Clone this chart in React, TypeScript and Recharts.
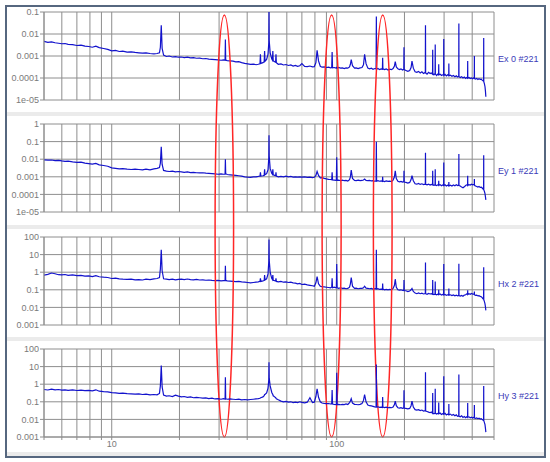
import React from 'react';
import { LineChart, Line, XAxis, YAxis, CartesianGrid, ReferenceArea } from 'recharts';

// Frequency (Hz) of each sample, shared by all four channels
const freqs = [
  5, 5.2, 5.4, 5.6, 5.8, 6, 6.2, 6.4, 6.7, 7, 7.3, 7.6, 7.9, 8.2, 8.5, 8.8, 9.2, 9.6, 10, 10.4,
  10.8, 11.2, 11.7, 12.2, 12.7, 13.2, 13.7, 14.2, 14.8, 15.4, 15.9, 16.3, 16.45, 16.6, 16.75, 17, 17.5, 18, 18.6, 19.2,
  19.8, 20.4, 21, 21.7, 22.4, 23.1, 23.8, 24.6, 25.4, 26.2, 27, 27.9, 28.8, 29.7, 30.6, 31.4, 31.9, 32, 32.1, 32.6,
  33.6, 34.6, 35.6, 36.7, 37.8, 39, 40.2, 41.4, 42.6, 43.8, 44.8, 45.6, 45.8, 46, 47, 47.6, 47.8, 48, 48.8, 49.5,
  49.9, 50, 50.1, 50.6, 51.4, 51.8, 52, 52.2, 53, 53.5, 53.7, 53.9, 55, 56.5, 58, 59.5, 61, 62.5, 64, 65.5,
  67, 68.5, 70, 72, 74, 76, 78, 79.5, 80.8, 81.8, 83, 84.5, 86, 88, 90, 92, 93.8, 95, 95.4, 95.8,
  97.5, 99.2, 99.6, 100, 100.4, 102, 104, 106, 108, 110, 112, 114, 115, 116, 117.5, 120, 122, 124.5, 127, 129.5,
  131.5, 133, 135, 137.5, 140, 142.5, 145, 147.5, 149.6, 150, 150.4, 152.5, 155, 157.5, 159.6, 160, 160.4, 163, 166, 169,
  172, 175, 178, 180.5, 182, 184, 187, 190, 193, 196, 198.6, 199, 199.4, 203, 207, 211, 214, 216, 219, 223,
  227, 231, 235, 239, 243, 247.6, 248, 248.4, 252, 256, 260, 263, 266.6, 267, 267.4, 270.5, 273.6, 274, 274.4, 278,
  281, 283.6, 284, 284.4, 288, 292, 295.5, 298.6, 299, 299.4, 303, 307, 311, 314.6, 315, 315.4, 320, 325, 330, 335,
  340, 344, 348.6, 349, 349.4, 354, 359, 364, 369, 374, 378, 381.6, 382, 382.4, 387, 392, 397, 402, 406, 408.6,
  409, 409.4, 414, 419, 424, 429, 434, 439, 443, 446, 449.6, 450, 450.4, 453, 456, 458, 460,
];

const ex = [
  4.6e-3, 4.2e-3, 4.4e-3, 4.0e-3, 3.8e-3, 3.6e-3, 3.7e-3, 3.4e-3, 3.3e-3, 3.0e-3, 3.1e-3, 2.8e-3, 2.7e-3, 2.5e-3, 2.8e-3, 2.4e-3, 2.2e-3, 2.0e-3, 1.7e-3, 1.8e-3,
  1.6e-3, 1.65e-3, 1.5e-3, 1.55e-3, 1.45e-3, 1.4e-3, 1.35e-3, 1.4e-3, 1.3e-3, 1.25e-3, 1.3e-3, 1.4e-3, 2.5e-3, 2.5e-2, 2.2e-3, 1.1e-3, 9.5e-4, 1.0e-3, 9.0e-4, 9.4e-4,
  8.8e-4, 9.0e-4, 8.5e-4, 8.8e-4, 8.2e-4, 8.4e-4, 7.9e-4, 8.0e-4, 7.5e-4, 7.7e-4, 7.2e-4, 7.0e-4, 6.8e-4, 6.6e-4, 6.4e-4, 6.6e-4, 6.4e-4, 5.6e-3, 6.6e-4, 6.2e-4,
  6.0e-4, 5.8e-4, 5.4e-4, 5.5e-4, 5.0e-4, 4.6e-4, 4.4e-4, 4.2e-4, 4.3e-4, 4.0e-4, 4.2e-4, 4.4e-4, 1.2e-3, 4.6e-4, 5.0e-4, 5.5e-4, 1.7e-3, 5.8e-4, 7.0e-4, 1.2e-3,
  4e-3, 0.1, 5e-3, 1.4e-3, 7.5e-4, 6.5e-4, 1.7e-3, 6.0e-4, 5.5e-4, 5.2e-4, 1.2e-3, 5.0e-4, 4.2e-4, 4.4e-4, 3.9e-4, 4.1e-4, 3.7e-4, 3.9e-4, 3.5e-4, 3.7e-4,
  3.4e-4, 3.6e-4, 4.5e-4, 3.4e-4, 3.3e-4, 3.5e-4, 3.2e-4, 3.3e-4, 5e-4, 1.8e-3, 6e-4, 3.4e-4, 3.1e-4, 3.2e-4, 3.0e-4, 3.1e-4, 2.9e-4, 3.0e-4, 1.5e-3, 2.9e-4,
  3.0e-4, 2.8e-4, 2.9e-4, 3.0e-4, 2.8e-4, 3.0e-4, 2.8e-4, 2.9e-4, 2.7e-4, 2.9e-4, 2.8e-4, 3.2e-4, 4.2e-4, 6.9e-4, 3.6e-4, 2.8e-4, 2.9e-4, 2.7e-4, 2.9e-4, 3.0e-4,
  4.0e-4, 1.2e-3, 4.5e-4, 2.8e-4, 2.6e-4, 2.8e-4, 2.5e-4, 2.7e-4, 2.6e-4, 6.3e-2, 2.5e-4, 2.7e-4, 2.4e-4, 2.6e-4, 2.5e-4, 8.3e-4, 2.6e-4, 2.4e-4, 2.6e-4, 2.3e-4,
  2.5e-4, 2.4e-4, 2.7e-4, 3.5e-4, 5.5e-4, 3.2e-4, 2.6e-4, 2.4e-4, 2.6e-4, 2.3e-4, 2.5e-4, 2.5e-3, 2.4e-4, 2.2e-4, 2.0e-4, 2.2e-4, 3.0e-4, 5.8e-4, 2.8e-4, 1.9e-4,
  1.8e-4, 2.0e-4, 1.7e-4, 1.9e-4, 1.6e-4, 1.8e-4, 2.5e-2, 1.7e-4, 1.5e-4, 1.8e-4, 1.6e-4, 1.7e-4, 1.5e-4, 1.9e-3, 1.6e-4, 1.4e-4, 1.6e-4, 3.3e-3, 1.5e-4, 1.3e-4,
  1.5e-4, 1.4e-4, 4.2e-4, 1.4e-4, 1.5e-4, 1.3e-4, 1.4e-4, 1.35e-4, 6.0e-3, 1.3e-4, 1.45e-4, 1.25e-4, 1.4e-4, 1.3e-4, 4.5e-4, 1.25e-4, 1.35e-4, 1.2e-4, 1.3e-4, 1.15e-4,
  1.25e-4, 1.1e-4, 1.2e-4, 3.0e-2, 1.15e-4, 1.05e-4, 1.15e-4, 1.0e-4, 1.1e-4, 9.5e-5, 1.05e-4, 1.0e-4, 5.9e-4, 9.8e-5, 1.05e-4, 9.5e-5, 1.0e-4, 9.2e-5, 1.0e-4, 9.6e-5,
  1.0e-3, 9.5e-5, 9.0e-5, 9.6e-5, 8.5e-5, 9.2e-5, 8.6e-5, 8.8e-5, 8.0e-5, 7.6e-5, 7.0e-5, 6.6e-3, 6.8e-5, 5.6e-5, 4.0e-5, 2.6e-5, 1.4e-5,
];

const ey = [
  9.2e-3, 8.8e-3, 9.0e-3, 8.4e-3, 8.6e-3, 8.0e-3, 7.6e-3, 7.8e-3, 7.0e-3, 6.6e-3, 6.8e-3, 6.0e-3, 5.6e-3, 5.2e-3, 5.8e-3, 4.8e-3, 4.4e-3, 4.0e-3, 3.2e-3, 3.0e-3,
  2.8e-3, 2.9e-3, 2.7e-3, 2.6e-3, 2.7e-3, 2.6e-3, 2.5e-3, 2.7e-3, 2.5e-3, 2.8e-3, 3.0e-3, 3.4e-3, 6e-3, 5e-2, 5e-3, 2.3e-3, 2.1e-3, 2.0e-3, 2.1e-3, 1.9e-3,
  2.0e-3, 1.9e-3, 1.8e-3, 1.9e-3, 1.75e-3, 1.8e-3, 1.7e-3, 1.65e-3, 1.7e-3, 1.6e-3, 1.55e-3, 1.5e-3, 1.45e-3, 1.4e-3, 1.45e-3, 1.4e-3, 1.4e-3, 1.0e-2, 1.5e-3, 1.35e-3,
  1.3e-3, 1.25e-3, 1.2e-3, 1.15e-3, 1.1e-3, 1.0e-3, 9.5e-4, 9.3e-4, 9.8e-4, 1.0e-3, 1.05e-3, 1.1e-3, 1.8e-3, 1.1e-3, 1.15e-3, 1.2e-3, 2.7e-3, 1.3e-3, 1.5e-3, 2.5e-3,
  1.2e-2, 0.23, 1.5e-2, 3e-3, 1.6e-3, 1.4e-3, 2.7e-3, 1.3e-3, 1.2e-3, 1.15e-3, 1.8e-3, 1.1e-3, 1.0e-3, 1.05e-3, 1.0e-3, 1.1e-3, 1.0e-3, 1.05e-3, 9.5e-4, 1.0e-3,
  9.6e-4, 1.0e-3, 9.5e-4, 9.8e-4, 9.2e-4, 9.5e-4, 9.0e-4, 9.4e-4, 1.2e-3, 2.0e-3, 1.2e-3, 8.8e-4, 9.0e-4, 8.2e-4, 7.6e-4, 7.2e-4, 7.0e-4, 6.8e-4, 1.8e-3, 6.6e-4,
  6.4e-4, 6.2e-4, 6.4e-4, 1.3e-2, 6.3e-4, 6.5e-4, 6.0e-4, 6.4e-4, 6.0e-4, 6.3e-4, 5.8e-4, 6.8e-4, 1.0e-3, 2.4e-3, 8.0e-4, 6.2e-4, 6.0e-4, 6.4e-4, 6.0e-4, 6.2e-4,
  6.6e-4, 7.5e-4, 6.2e-4, 6.0e-4, 6.3e-4, 5.8e-4, 6.0e-4, 5.6e-4, 5.8e-4, 9.8e-2, 5.6e-4, 6.0e-4, 5.6e-4, 5.9e-4, 5.5e-4, 1.0e-3, 5.7e-4, 5.4e-4, 5.8e-4, 5.5e-4,
  5.7e-4, 5.3e-4, 6.5e-4, 1.0e-3, 2.2e-3, 8.0e-4, 5.6e-4, 5.2e-4, 5.5e-4, 5.0e-4, 5.3e-4, 2.2e-3, 5.0e-4, 4.8e-4, 4.4e-4, 4.8e-4, 7.0e-4, 1.15e-3, 6.0e-4, 4.0e-4,
  3.8e-4, 4.2e-4, 3.7e-4, 4.0e-4, 3.6e-4, 3.9e-4, 2.3e-2, 3.7e-4, 3.5e-4, 3.8e-4, 3.4e-4, 3.7e-4, 3.5e-4, 2.2e-3, 3.6e-4, 3.3e-4, 3.5e-4, 2.7e-3, 3.4e-4, 3.2e-4,
  3.5e-4, 3.3e-4, 6.0e-4, 3.3e-4, 3.6e-4, 3.1e-4, 3.4e-4, 3.2e-4, 6.5e-3, 3.2e-4, 3.5e-4, 3.0e-4, 3.3e-4, 3.1e-4, 5.0e-4, 3.0e-4, 3.3e-4, 3.0e-4, 3.4e-4, 3.1e-4,
  3.5e-4, 3.2e-4, 3.4e-4, 2.0e-2, 3.2e-4, 3.0e-4, 2.6e-4, 2.4e-4, 2.7e-4, 3.2e-4, 3.5e-4, 3.3e-4, 1.15e-3, 3.2e-4, 3.6e-4, 3.4e-4, 3.8e-4, 3.5e-4, 3.7e-4, 3.4e-4,
  7.4e-4, 3.3e-4, 3.0e-4, 2.8e-4, 2.6e-4, 2.8e-4, 2.5e-4, 2.6e-4, 2.3e-4, 2.1e-4, 1.9e-4, 1.66e-2, 1.8e-4, 1.5e-4, 1.1e-4, 7.5e-5, 4.9e-5,
];

const hx = [
  0.68, 0.75, 0.9, 0.82, 0.72, 0.7, 0.74, 0.66, 0.7, 0.64, 0.66, 0.6, 0.62, 0.56, 0.64, 0.55, 0.52, 0.5, 0.44, 0.46,
  0.42, 0.4, 0.39, 0.4, 0.37, 0.38, 0.36, 0.4, 0.38, 0.42, 0.44, 0.5, 1.5, 19, 1.2, 0.42, 0.4, 0.38, 0.4, 0.37,
  0.39, 0.4, 0.38, 0.41, 0.38, 0.37, 0.39, 0.36, 0.37, 0.35, 0.36, 0.34, 0.33, 0.34, 0.32, 0.33, 0.33, 2.3, 0.34, 0.32,
  0.31, 0.3, 0.29, 0.3, 0.28, 0.27, 0.26, 0.25, 0.26, 0.27, 0.28, 0.3, 0.45, 0.3, 0.32, 0.34, 0.69, 0.36, 0.42, 0.8,
  4, 73, 5, 1, 0.45, 0.38, 0.69, 0.35, 0.33, 0.32, 0.45, 0.3, 0.28, 0.3, 0.27, 0.28, 0.26, 0.27, 0.25, 0.24,
  0.22, 0.23, 0.2, 0.21, 0.19, 0.18, 0.17, 0.16, 0.25, 0.56, 0.22, 0.16, 0.15, 0.145, 0.14, 0.135, 0.13, 0.14, 0.45, 0.13,
  0.14, 0.13, 0.135, 2.9, 0.13, 0.12, 0.13, 0.12, 0.125, 0.115, 0.12, 0.14, 0.22, 0.5, 0.16, 0.12, 0.125, 0.115, 0.12, 0.12,
  0.13, 0.16, 0.125, 0.12, 0.115, 0.12, 0.11, 0.115, 0.11, 19, 0.11, 0.115, 0.105, 0.11, 0.105, 0.23, 0.11, 0.1, 0.105, 0.1,
  0.105, 0.1, 0.12, 0.18, 0.4, 0.14, 0.1, 0.095, 0.1, 0.092, 0.095, 0.36, 0.09, 0.088, 0.08, 0.085, 0.1, 0.12, 0.08, 0.065,
  0.06, 0.066, 0.06, 0.064, 0.058, 0.062, 3.5, 0.06, 0.056, 0.062, 0.058, 0.06, 0.055, 0.36, 0.058, 0.054, 0.057, 0.3, 0.055, 0.052,
  0.056, 0.053, 0.1, 0.054, 0.058, 0.05, 0.055, 0.052, 2.9, 0.051, 0.054, 0.048, 0.052, 0.05, 0.12, 0.049, 0.052, 0.047, 0.051, 0.046,
  0.05, 0.045, 0.048, 3.0, 0.047, 0.044, 0.048, 0.043, 0.05, 0.052, 0.058, 0.055, 0.095, 0.054, 0.06, 0.056, 0.062, 0.057, 0.058, 0.054,
  0.08, 0.053, 0.048, 0.05, 0.045, 0.047, 0.042, 0.04, 0.036, 0.032, 0.029, 1.9, 0.027, 0.022, 0.016, 0.011, 0.0068,
];

const hy = [
  0.5, 0.47, 0.52, 0.48, 0.5, 0.46, 0.48, 0.45, 0.47, 0.44, 0.46, 0.43, 0.45, 0.42, 0.48, 0.4, 0.38, 0.37, 0.33, 0.32,
  0.3, 0.31, 0.29, 0.28, 0.27, 0.28, 0.26, 0.27, 0.25, 0.26, 0.25, 0.3, 0.8, 11.5, 0.7, 0.24, 0.21, 0.22, 0.2, 0.24,
  0.21, 0.19, 0.2, 0.18, 0.19, 0.17, 0.18, 0.17, 0.16, 0.165, 0.15, 0.16, 0.145, 0.15, 0.14, 0.15, 0.14, 2.5, 0.15, 0.14,
  0.145, 0.14, 0.135, 0.14, 0.13, 0.135, 0.13, 0.135, 0.14, 0.145, 0.15, 0.16, 0.17, 0.17, 0.19, 0.22, 0.26, 0.26, 0.32, 0.6,
  1.8, 17.5, 2.2, 0.8, 0.35, 0.28, 0.26, 0.22, 0.19, 0.17, 0.16, 0.15, 0.13, 0.11, 0.1, 0.105, 0.095, 0.1, 0.09, 0.095,
  0.09, 0.1, 0.092, 0.088, 0.095, 0.17, 0.09, 0.095, 0.2, 0.55, 0.18, 0.1, 0.085, 0.08, 0.078, 0.08, 0.075, 0.078, 0.46, 0.075,
  0.072, 0.07, 0.072, 4.4, 0.07, 0.072, 0.068, 0.072, 0.07, 0.075, 0.07, 0.09, 0.11, 0.15, 0.085, 0.072, 0.07, 0.068, 0.072, 0.08,
  0.12, 0.26, 0.1, 0.065, 0.06, 0.058, 0.055, 0.052, 0.05, 13, 0.05, 0.052, 0.048, 0.05, 0.048, 0.19, 0.05, 0.047, 0.05, 0.046,
  0.048, 0.046, 0.05, 0.07, 0.11, 0.06, 0.046, 0.044, 0.046, 0.043, 0.045, 0.46, 0.043, 0.042, 0.04, 0.042, 0.06, 0.11, 0.05, 0.036,
  0.034, 0.036, 0.032, 0.034, 0.03, 0.032, 4.8, 0.03, 0.028, 0.026, 0.024, 0.026, 0.022, 0.32, 0.023, 0.021, 0.023, 0.55, 0.022, 0.02,
  0.022, 0.021, 0.09, 0.021, 0.023, 0.019, 0.021, 0.02, 2.8, 0.02, 0.022, 0.018, 0.02, 0.019, 0.075, 0.018, 0.02, 0.017, 0.019, 0.016,
  0.018, 0.015, 0.016, 3.5, 0.015, 0.014, 0.016, 0.013, 0.0145, 0.0125, 0.014, 0.013, 0.085, 0.013, 0.014, 0.0125, 0.0135, 0.012, 0.013, 0.0125,
  0.065, 0.012, 0.0115, 0.0122, 0.011, 0.0118, 0.0105, 0.011, 0.0098, 0.0094, 0.0088, 0.78, 0.0084, 0.0068, 0.005, 0.0032, 0.0019,
];

const xTicks = [5, 6, 7, 8, 9, 10, 20, 30, 40, 50, 60, 70, 80, 90, 100, 200, 300, 400, 500];
const xTickLabels = ['', '', '', '', '', '10', '', '', '', '', '', '', '', '', '100', '', '', '', ''];
const eTicksA = [1e-5, 1e-4, 1e-3, 1e-2, 1e-1];
const eLabelsA = ['1e-05', '0.0001', '0.001', '0.01', '0.1'];
const eTicksB = [1e-5, 1e-4, 1e-3, 1e-2, 1e-1, 1];
const eLabelsB = ['1e-05', '0.0001', '0.001', '0.01', '0.1', '1'];
const hTicks = [1e-3, 1e-2, 1e-1, 1, 10, 100];
const hLabels = ['0.001', '0.01', '0.1', '1', '10', '100'];
const channelNames = ['Ex 0 #221', 'Ey 1 #221', 'Hx 2 #221', 'Hy 3 #221'];
// frequency bands circled in red (lower, upper edge in Hz)
const ellipseBands = [[28.8, 34.8], [86.1, 104.6], [145.5, 176.2]];

const PLOT_H = 88;
const PAD = 8;
const PANEL_TOPS = [12, 124, 237, 349];
const ELLIPSE_RISE = 334;
const FONT = "'Liberation Sans', Arial, sans-serif";
const GRID = '#8e8e8e';

const labelFor = (ticks: number[], labels: string[]) => (v: number) => {
  let best = 0;
  let bd = Infinity;
  ticks.forEach((t, i) => {
    const d = Math.abs(Math.log10(t) - Math.log10(v));
    if (d < bd) { bd = d; best = i; }
  });
  return labels[best];
};

const EllipseShape = (props: any) => {
  const { x, y, width, height } = props;
  if (x == null) return null;
  const cx = x + width / 2;
  const bottom = y + height;
  const top = y - ELLIPSE_RISE;
  return (
    <ellipse cx={cx} cy={(top + bottom) / 2} rx={width / 2} ry={(bottom - top) / 2}
      fill="none" stroke="#ff2626" strokeWidth={1.5} />
  );
};

function Panel({ idx, values, yTicks, yLabels, showX }: any) {
  const data = freqs.map((f, i) => ({ f, v: values[i] }));
  const h = PLOT_H + 2 * PAD + (showX ? 14 : 0);
  const top = PANEL_TOPS[idx];
  return (
    <div className={showX ? 'panel-last' : 'panel'} style={{ position: 'absolute', left: 0, top: top - PAD, width: 550, height: h }}>
      <LineChart width={550} height={h} data={data} margin={{ top: PAD, right: 56, bottom: PAD, left: 4 }}>
        <CartesianGrid stroke={GRID} strokeWidth={1} />
        <XAxis dataKey="f" type="number" scale="log" domain={[5, 500]} ticks={xTicks} interval={0}
          allowDataOverflow hide={!showX} height={14} tickSize={3} tickMargin={1}
          tickFormatter={labelFor(xTicks, xTickLabels)}
          tick={{ fontSize: 9, fill: '#7a7a7a', fontFamily: FONT }}
          axisLine={{ stroke: GRID }} tickLine={{ stroke: GRID }} />
        <YAxis type="number" scale="log" domain={[yTicks[0], yTicks[yTicks.length - 1]]} ticks={yTicks}
          interval={0} allowDataOverflow width={40} tickSize={4} tickMargin={1}
          tickFormatter={labelFor(yTicks, yLabels)}
          tick={{ fontSize: 9, fill: '#7a7a7a', fontFamily: FONT }}
          axisLine={{ stroke: GRID }} tickLine={{ stroke: GRID }} />
        <Line dataKey="v" type="linear" stroke="#1212cc" strokeWidth={1.2} dot={false} isAnimationActive={false} />
        {showX && ellipseBands.map((b, i) => (
          <ReferenceArea key={i} x1={b[0]} x2={b[1]} ifOverflow="visible" shape={EllipseShape} />
        ))}
      </LineChart>
      <div style={{ position: 'absolute', left: 498, top: PAD + PLOT_H / 2 - 2, fontFamily: FONT, fontSize: 9, color: '#3a3ab8', lineHeight: '10px', whiteSpace: 'nowrap' }}>
        {channelNames[idx]}
      </div>
    </div>
  );
}

export default function App() {
  const bands = [112, 225, 337, 452];
  return (
    <div style={{ position: 'absolute', left: 0, top: 0, width: 550, height: 462, background: '#fff', overflow: 'hidden' }}>
      <style>{`.panel-last .recharts-surface, .panel-last .recharts-wrapper { overflow: visible !important; }`}</style>
      {bands.map((b, i) => (
        <div key={i} style={{ position: 'absolute', left: 7, top: b, width: 537, height: 4, background: '#ebebeb' }} />
      ))}
      <Panel idx={0} values={ex} yTicks={eTicksA} yLabels={eLabelsA} />
      <Panel idx={1} values={ey} yTicks={eTicksB} yLabels={eLabelsB} />
      <Panel idx={2} values={hx} yTicks={hTicks} yLabels={hLabels} />
      <Panel idx={3} values={hy} yTicks={hTicks} yLabels={hLabels} showX />
      <div style={{ position: 'absolute', left: 5, top: 5, width: 541, height: 453, border: '2px solid #56677f', boxSizing: 'border-box', pointerEvents: 'none' }} />
    </div>
  );
}
